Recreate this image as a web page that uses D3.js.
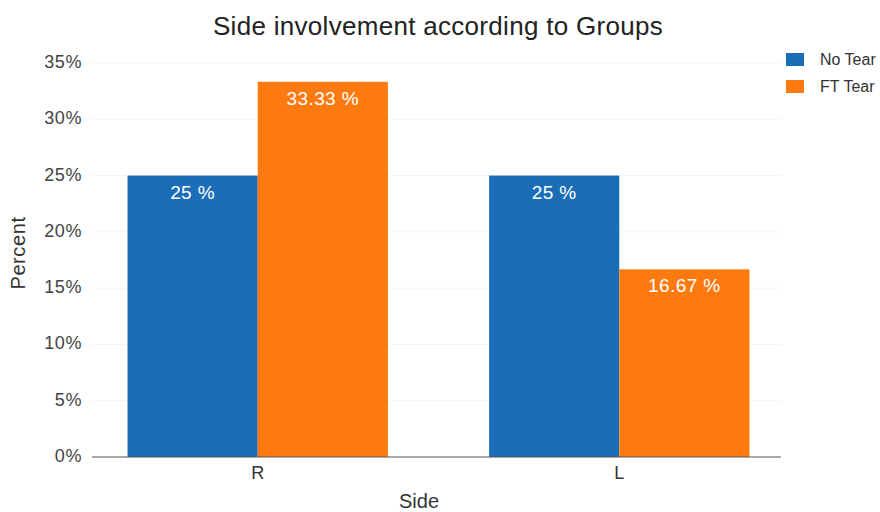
<!DOCTYPE html>
<html><head><meta charset="utf-8">
<script src="https://cdn.jsdelivr.net/npm/d3@7"></script>
<style>body{margin:0;background:#fff;font-family:"Liberation Sans",Arial,sans-serif}</style>
</head><body><svg id="c" width="880" height="512"></svg>
<script>
const categories = ["R", "L"];
const seriesNames = ["No Tear", "FT Tear"];
const noTear = [25, 25];
const ftTear = [33.33, 16.67];
const yTicks = [0, 5, 10, 15, 20, 25, 30, 35];
const colors = ["#1c6db7", "#fc7a10"];

const svg = d3.select("#c");
const x = d3.scaleBand().domain(categories).range([95, 782]).paddingInner(0.28).paddingOuter(0.09);
const xs = d3.scaleBand().domain(seriesNames).range([0, x.bandwidth()]).padding(0);
const y = d3.scaleLinear().domain([0, 35]).range([457, 63]);
const color = d3.scaleOrdinal().domain(seriesNames).range(colors);

// faint gridlines
svg.append("g").selectAll("line").data(yTicks.slice(1)).join("line")
  .attr("x1", 92).attr("x2", 781).attr("y1", d => y(d)).attr("y2", d => y(d))
  .attr("stroke", "#f4f4f4").attr("stroke-width", 1);

// y axis labels
const ya = svg.append("g").attr("transform", "translate(92,0)")
  .call(d3.axisLeft(y).tickValues(yTicks).tickFormat(d => d + "%").tickSize(0).tickPadding(10));
ya.select(".domain").remove();
ya.selectAll("text").attr("font-family", "Liberation Sans, Arial, sans-serif").attr("font-size", 18)
  .attr("letter-spacing", "0.6px").attr("fill", "#444").attr("dy", "0.25em");

const rows = categories.map((c, i) => ({cat: c, vals: [noTear[i], ftTear[i]]}));
const g = svg.append("g").selectAll("g").data(rows).join("g")
  .attr("transform", d => `translate(${x(d.cat)},0)`);
g.selectAll("rect").data(d => d.vals.map((v, j) => ({s: seriesNames[j], v}))).join("rect")
  .attr("x", d => xs(d.s)).attr("width", xs.bandwidth())
  .attr("y", d => y(d.v)).attr("height", d => y(0) - y(d.v))
  .attr("fill", d => color(d.s));
g.selectAll("text").data(d => d.vals.map((v, j) => ({s: seriesNames[j], v}))).join("text")
  .attr("x", d => xs(d.s) + xs.bandwidth() / 2).attr("y", d => y(d.v) + 23)
  .attr("text-anchor", "middle").attr("fill", "#fff").attr("font-size", 19).attr("letter-spacing", "0.4px")
  .text(d => d.v + " %");

// x axis
const xa = svg.append("g").attr("transform", "translate(0,457)")
  .call(d3.axisBottom(x).tickSize(0).tickPadding(9));
xa.select(".domain").attr("stroke", "#555").attr("stroke-width", 1.2).attr("d", "M92,0H781");
xa.selectAll("text").attr("font-family", "Liberation Sans, Arial, sans-serif").attr("font-size", 18).attr("fill", "#333");

// titles
svg.append("text").attr("x", 438).attr("y", 35).attr("text-anchor", "middle")
  .attr("font-size", 26).attr("letter-spacing", "0.3px").attr("fill", "#222").text("Side involvement according to Groups");
svg.append("text").attr("x", 419).attr("y", 508).attr("text-anchor", "middle")
  .attr("font-size", 20).attr("fill", "#333").text("Side");
svg.append("text").attr("transform", "translate(25,253) rotate(-90)").attr("text-anchor", "middle")
  .attr("font-size", 20).attr("letter-spacing", "0.6px").attr("fill", "#333").text("Percent");

// legend
const lg = svg.append("g").selectAll("g").data(seriesNames).join("g")
  .attr("transform", (d, i) => `translate(786,${53 + i * 27})`);
lg.append("rect").attr("width", 18).attr("height", 13).attr("fill", d => color(d));
lg.append("text").attr("x", 34).attr("y", 12).attr("font-size", 16).attr("fill", "#333").text(d => d);
</script></body></html>
